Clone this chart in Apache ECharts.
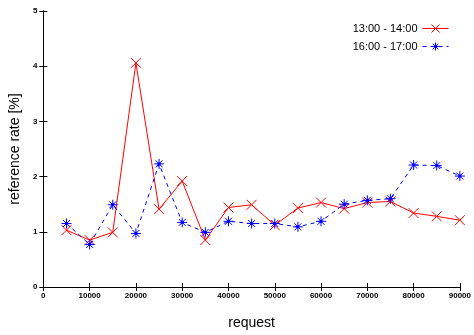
<!DOCTYPE html>
<html><head><meta charset="utf-8">
<script src="https://cdn.jsdelivr.net/npm/echarts@6/dist/echarts.min.js"></script>
<style>html,body{margin:0;padding:0;background:#fff}#c{width:474px;height:335px}</style>
</head><body><div id="c"></div>
<script>
var requests = [5000,10000,15000,20000,25000,30000,35000,40000,45000,50000,55000,60000,65000,70000,75000,80000,85000,90000];
var rate1314 = [1.03,0.85,0.99,4.06,1.41,1.92,0.85,1.44,1.49,1.12,1.43,1.53,1.42,1.53,1.55,1.34,1.28,1.21];
var rate1617 = [1.15,0.77,1.49,0.97,2.23,1.17,0.99,1.19,1.15,1.15,1.09,1.19,1.50,1.57,1.60,2.21,2.20,2.01];
var seriesNames = ['13:00 - 14:00','16:00 - 17:00'];
var xTicks = [0,10000,20000,30000,40000,50000,60000,70000,80000,90000];
var yTicks = [0,1,2,3,4,5];

var crossPath = 'path://M0,0L10,10M10,0L0,10';
var starPath = 'path://M5,0L5,10M0,5L10,5M1.5,1.5L8.5,8.5M8.5,1.5L1.5,8.5M4,4L6,4L6,6L4,6Z';
var font = 'Liberation Sans, Arial, sans-serif';
function pairs(v){return requests.map(function(x,i){return [x,v[i]];});}
var chart = echarts.init(document.getElementById('c'));
var tickStyle = {show:true,inside:true,length:4,lineStyle:{color:'#000',width:1}};
chart.setOption({
  animation:false,
  grid:{left:41,right:9,top:11,bottom:47},
  legend:{
    right:20, top:18, orient:'vertical', align:'right', itemGap:7, itemWidth:26, itemHeight:10,
    textStyle:{fontFamily:font,fontSize:11,color:'#000'},
    lineStyle:{width:1},itemStyle:{borderWidth:1},
    data:seriesNames
  },
  xAxis:[{
    type:'value',min:0,max:90000,interval:10000,
    name:'request',nameLocation:'middle',nameGap:29,
    nameTextStyle:{fontFamily:font,fontSize:14,color:'#000'},
    axisLine:{show:true,lineStyle:{color:'#000',width:1}},
    axisTick:tickStyle,splitLine:{show:false},
    axisLabel:{fontFamily:font,fontSize:8,fontWeight:'bold',color:'#000',margin:5,
      formatter:function(v){return String(v);}}
  },{
    type:'value',min:0,max:90000,interval:10000,position:'top',
    axisLine:{show:true,lineStyle:{color:'#000',width:1}},
    axisTick:tickStyle,splitLine:{show:false},axisLabel:{show:false}
  }],
  yAxis:[{
    type:'value',min:0,max:5,interval:1,
    name:'reference rate [%]',nameLocation:'middle',nameGap:19,
    nameTextStyle:{fontFamily:font,fontSize:14,color:'#000'},
    axisLine:{show:true,lineStyle:{color:'#000',width:1}},
    axisTick:tickStyle,splitLine:{show:false},
    axisLabel:{fontFamily:font,fontSize:8,fontWeight:'bold',color:'#000',margin:6}
  },{
    type:'value',min:0,max:5,interval:1,position:'right',
    axisLine:{show:true,lineStyle:{color:'#000',width:1}},
    axisTick:tickStyle,splitLine:{show:false},axisLabel:{show:false}
  }],
  series:[{
    name:seriesNames[0],type:'line',data:pairs(rate1314),
    symbol:crossPath,symbolSize:10,showAllSymbol:true,
    lineStyle:{color:'#ff0000',width:1},
    itemStyle:{color:'rgba(0,0,0,0)',borderColor:'#ff0000',borderWidth:1}
  },{
    name:seriesNames[1],type:'line',data:pairs(rate1617),
    symbol:starPath,symbolSize:10,showAllSymbol:true,
    lineStyle:{color:'#0000ff',width:1,type:[4,4]},
    itemStyle:{color:'#0000ff',borderColor:'#0000ff',borderWidth:1}
  }]
});
</script></body></html>
